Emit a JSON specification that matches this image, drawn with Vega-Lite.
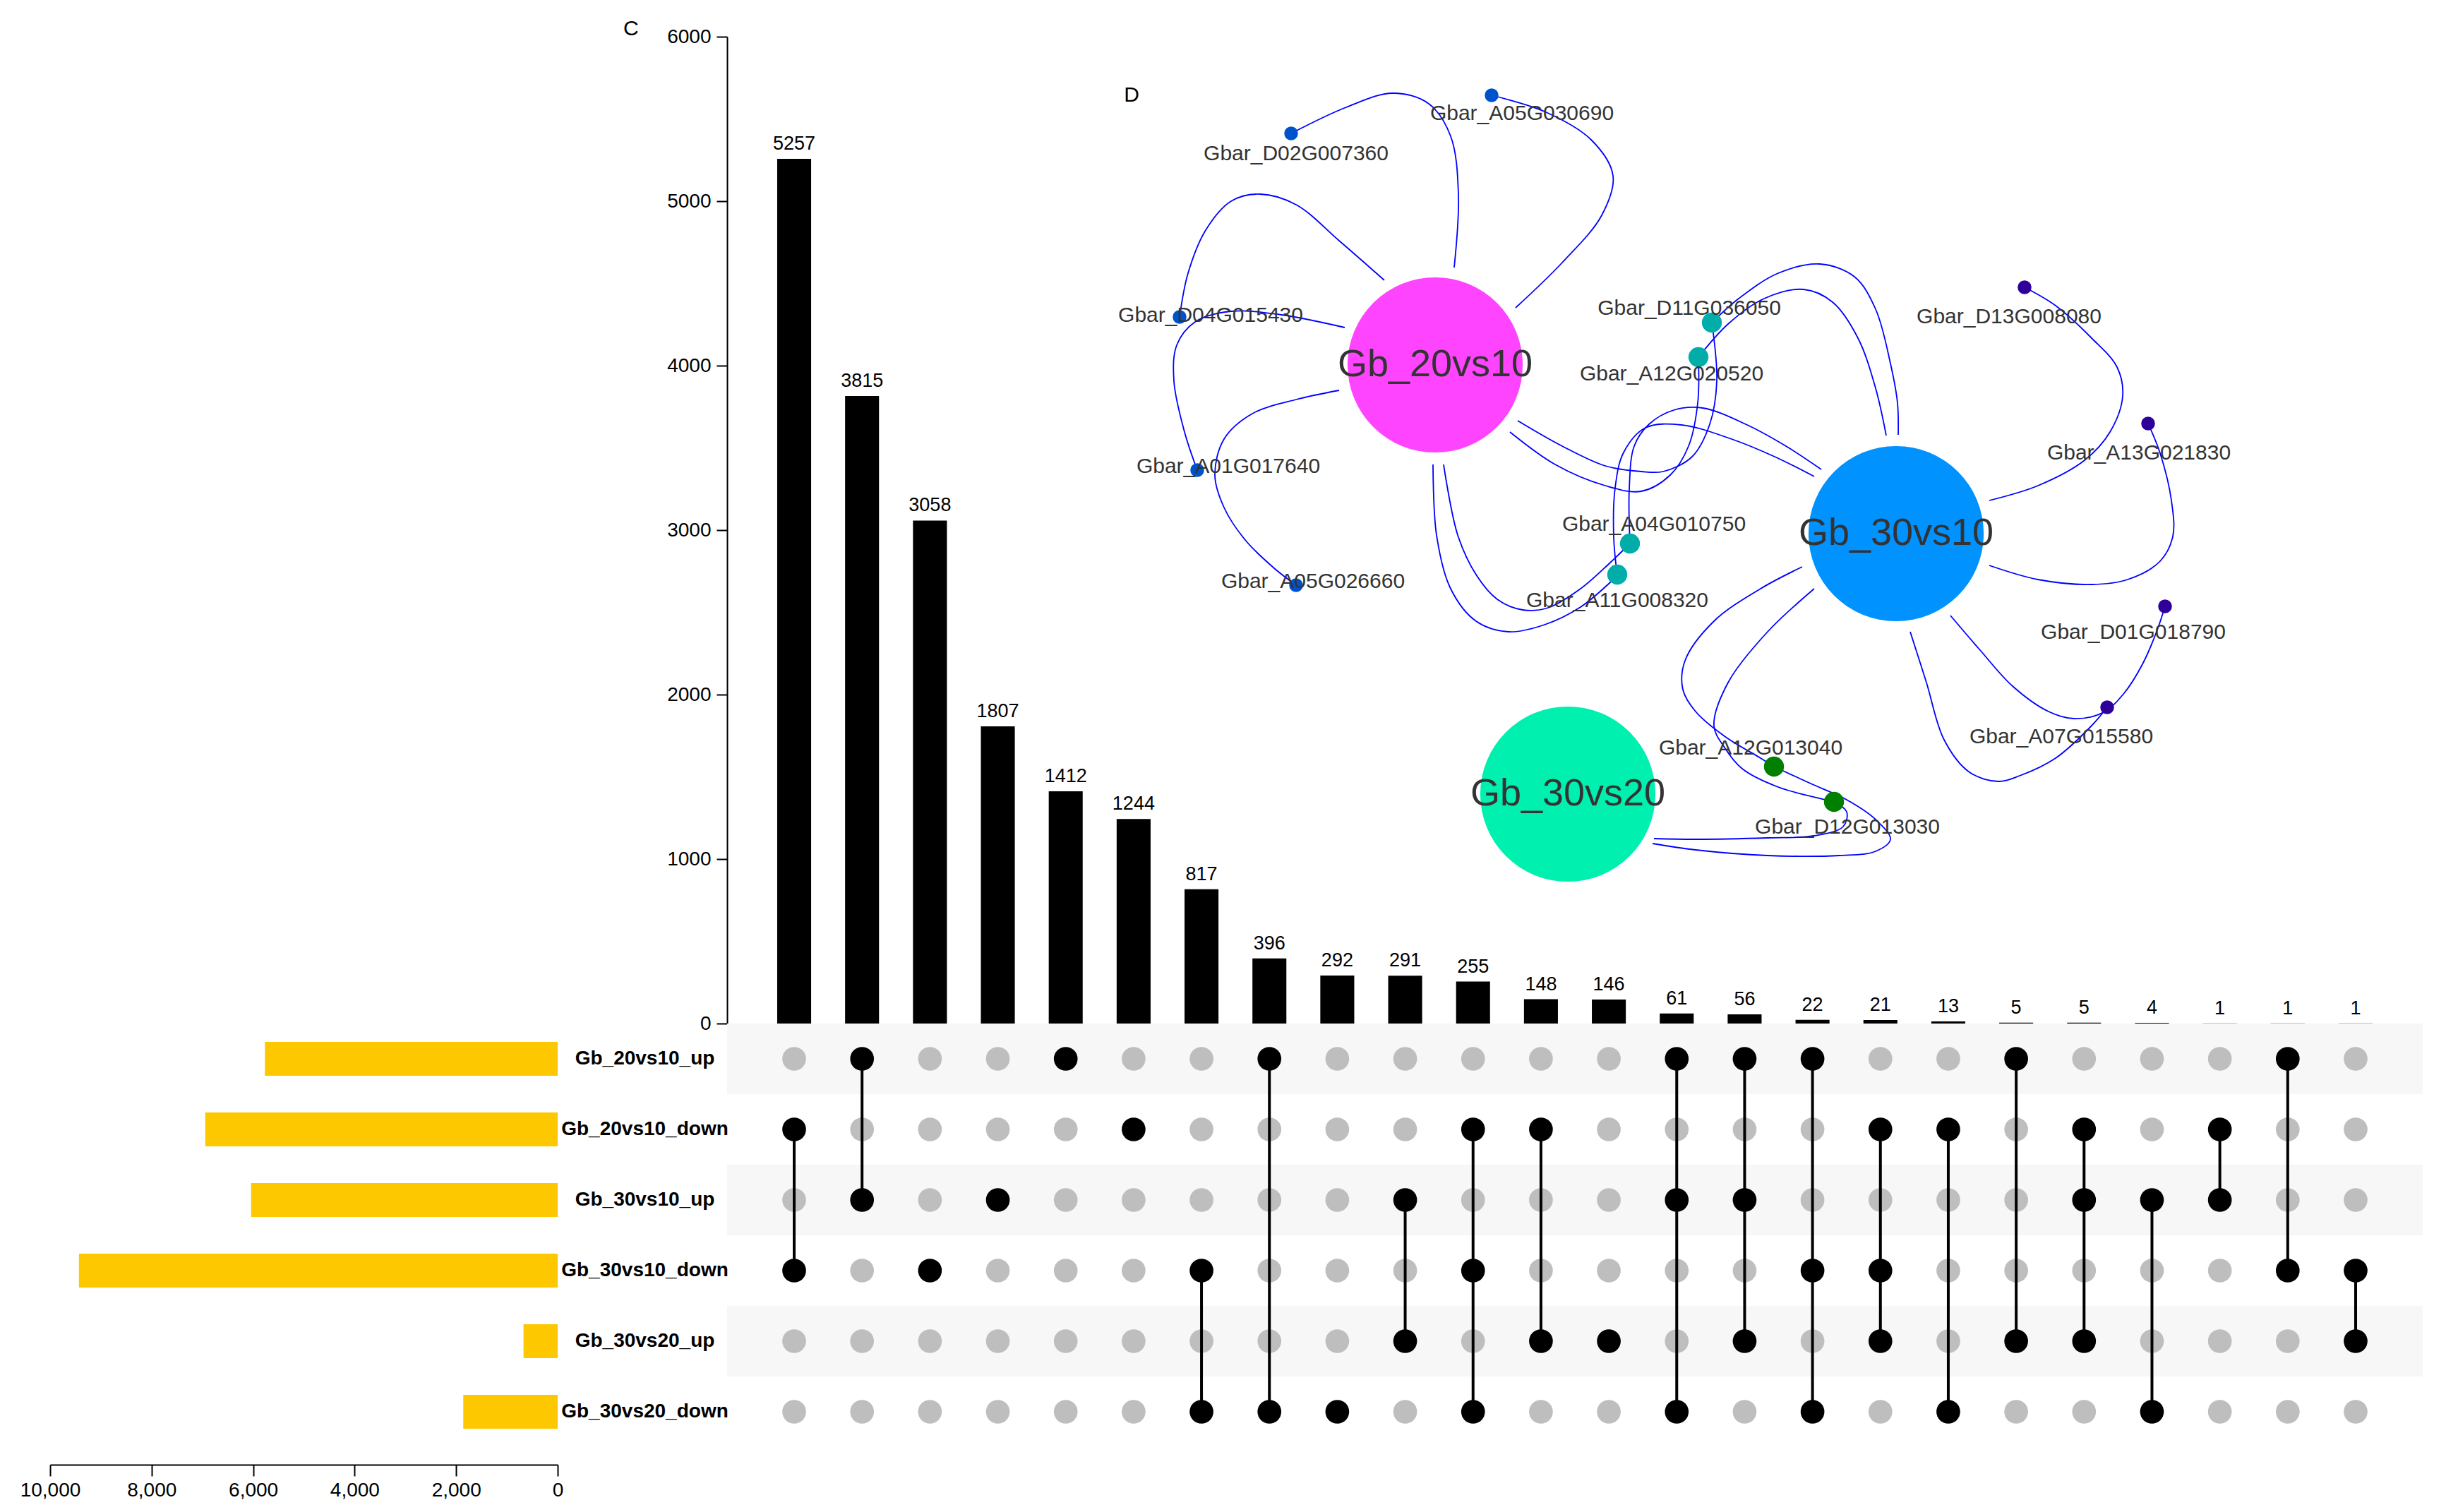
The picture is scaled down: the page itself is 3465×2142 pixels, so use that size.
{
  "$schema": "https://vega.github.io/schema/vega-lite/v6.json",
  "autosize": {"type": "pad"},
  "padding": {"left": 28, "top": 26, "right": 5, "bottom": 5},
  "background": "white",
  "config": {
    "view": {"stroke": null},
    "font": "Liberation Sans",
    "axis": {"grid": false, "labelFont": "Liberation Sans", "titleFont": "Liberation Sans"},
    "title": {"font": "Liberation Sans"}
  },
  "datasets": {
    "inter": [
      {"rank": 1, "count": 5257, "first": "Gb_20vs10_down", "last": "Gb_30vs10_down", "Gb_20vs10_up": 0, "Gb_20vs10_down": 1, "Gb_30vs10_up": 0, "Gb_30vs10_down": 1, "Gb_30vs20_up": 0, "Gb_30vs20_down": 0},
      {"rank": 2, "count": 3815, "first": "Gb_20vs10_up", "last": "Gb_30vs10_up", "Gb_20vs10_up": 1, "Gb_20vs10_down": 0, "Gb_30vs10_up": 1, "Gb_30vs10_down": 0, "Gb_30vs20_up": 0, "Gb_30vs20_down": 0},
      {"rank": 3, "count": 3058, "first": "Gb_30vs10_down", "last": "Gb_30vs10_down", "Gb_20vs10_up": 0, "Gb_20vs10_down": 0, "Gb_30vs10_up": 0, "Gb_30vs10_down": 1, "Gb_30vs20_up": 0, "Gb_30vs20_down": 0},
      {"rank": 4, "count": 1807, "first": "Gb_30vs10_up", "last": "Gb_30vs10_up", "Gb_20vs10_up": 0, "Gb_20vs10_down": 0, "Gb_30vs10_up": 1, "Gb_30vs10_down": 0, "Gb_30vs20_up": 0, "Gb_30vs20_down": 0},
      {"rank": 5, "count": 1412, "first": "Gb_20vs10_up", "last": "Gb_20vs10_up", "Gb_20vs10_up": 1, "Gb_20vs10_down": 0, "Gb_30vs10_up": 0, "Gb_30vs10_down": 0, "Gb_30vs20_up": 0, "Gb_30vs20_down": 0},
      {"rank": 6, "count": 1244, "first": "Gb_20vs10_down", "last": "Gb_20vs10_down", "Gb_20vs10_up": 0, "Gb_20vs10_down": 1, "Gb_30vs10_up": 0, "Gb_30vs10_down": 0, "Gb_30vs20_up": 0, "Gb_30vs20_down": 0},
      {"rank": 7, "count": 817, "first": "Gb_30vs10_down", "last": "Gb_30vs20_down", "Gb_20vs10_up": 0, "Gb_20vs10_down": 0, "Gb_30vs10_up": 0, "Gb_30vs10_down": 1, "Gb_30vs20_up": 0, "Gb_30vs20_down": 1},
      {"rank": 8, "count": 396, "first": "Gb_20vs10_up", "last": "Gb_30vs20_down", "Gb_20vs10_up": 1, "Gb_20vs10_down": 0, "Gb_30vs10_up": 0, "Gb_30vs10_down": 0, "Gb_30vs20_up": 0, "Gb_30vs20_down": 1},
      {"rank": 9, "count": 292, "first": "Gb_30vs20_down", "last": "Gb_30vs20_down", "Gb_20vs10_up": 0, "Gb_20vs10_down": 0, "Gb_30vs10_up": 0, "Gb_30vs10_down": 0, "Gb_30vs20_up": 0, "Gb_30vs20_down": 1},
      {"rank": 10, "count": 291, "first": "Gb_30vs10_up", "last": "Gb_30vs20_up", "Gb_20vs10_up": 0, "Gb_20vs10_down": 0, "Gb_30vs10_up": 1, "Gb_30vs10_down": 0, "Gb_30vs20_up": 1, "Gb_30vs20_down": 0},
      {"rank": 11, "count": 255, "first": "Gb_20vs10_down", "last": "Gb_30vs20_down", "Gb_20vs10_up": 0, "Gb_20vs10_down": 1, "Gb_30vs10_up": 0, "Gb_30vs10_down": 1, "Gb_30vs20_up": 0, "Gb_30vs20_down": 1},
      {"rank": 12, "count": 148, "first": "Gb_20vs10_down", "last": "Gb_30vs20_up", "Gb_20vs10_up": 0, "Gb_20vs10_down": 1, "Gb_30vs10_up": 0, "Gb_30vs10_down": 0, "Gb_30vs20_up": 1, "Gb_30vs20_down": 0},
      {"rank": 13, "count": 146, "first": "Gb_30vs20_up", "last": "Gb_30vs20_up", "Gb_20vs10_up": 0, "Gb_20vs10_down": 0, "Gb_30vs10_up": 0, "Gb_30vs10_down": 0, "Gb_30vs20_up": 1, "Gb_30vs20_down": 0},
      {"rank": 14, "count": 61, "first": "Gb_20vs10_up", "last": "Gb_30vs20_down", "Gb_20vs10_up": 1, "Gb_20vs10_down": 0, "Gb_30vs10_up": 1, "Gb_30vs10_down": 0, "Gb_30vs20_up": 0, "Gb_30vs20_down": 1},
      {"rank": 15, "count": 56, "first": "Gb_20vs10_up", "last": "Gb_30vs20_up", "Gb_20vs10_up": 1, "Gb_20vs10_down": 0, "Gb_30vs10_up": 1, "Gb_30vs10_down": 0, "Gb_30vs20_up": 1, "Gb_30vs20_down": 0},
      {"rank": 16, "count": 22, "first": "Gb_20vs10_up", "last": "Gb_30vs20_down", "Gb_20vs10_up": 1, "Gb_20vs10_down": 0, "Gb_30vs10_up": 0, "Gb_30vs10_down": 1, "Gb_30vs20_up": 0, "Gb_30vs20_down": 1},
      {"rank": 17, "count": 21, "first": "Gb_20vs10_down", "last": "Gb_30vs20_up", "Gb_20vs10_up": 0, "Gb_20vs10_down": 1, "Gb_30vs10_up": 0, "Gb_30vs10_down": 1, "Gb_30vs20_up": 1, "Gb_30vs20_down": 0},
      {"rank": 18, "count": 13, "first": "Gb_20vs10_down", "last": "Gb_30vs20_down", "Gb_20vs10_up": 0, "Gb_20vs10_down": 1, "Gb_30vs10_up": 0, "Gb_30vs10_down": 0, "Gb_30vs20_up": 0, "Gb_30vs20_down": 1},
      {"rank": 19, "count": 5, "first": "Gb_20vs10_up", "last": "Gb_30vs20_up", "Gb_20vs10_up": 1, "Gb_20vs10_down": 0, "Gb_30vs10_up": 0, "Gb_30vs10_down": 0, "Gb_30vs20_up": 1, "Gb_30vs20_down": 0},
      {"rank": 20, "count": 5, "first": "Gb_20vs10_down", "last": "Gb_30vs20_up", "Gb_20vs10_up": 0, "Gb_20vs10_down": 1, "Gb_30vs10_up": 1, "Gb_30vs10_down": 0, "Gb_30vs20_up": 1, "Gb_30vs20_down": 0},
      {"rank": 21, "count": 4, "first": "Gb_30vs10_up", "last": "Gb_30vs20_down", "Gb_20vs10_up": 0, "Gb_20vs10_down": 0, "Gb_30vs10_up": 1, "Gb_30vs10_down": 0, "Gb_30vs20_up": 0, "Gb_30vs20_down": 1},
      {"rank": 22, "count": 1, "first": "Gb_20vs10_down", "last": "Gb_30vs10_up", "Gb_20vs10_up": 0, "Gb_20vs10_down": 1, "Gb_30vs10_up": 1, "Gb_30vs10_down": 0, "Gb_30vs20_up": 0, "Gb_30vs20_down": 0},
      {"rank": 23, "count": 1, "first": "Gb_20vs10_up", "last": "Gb_30vs10_down", "Gb_20vs10_up": 1, "Gb_20vs10_down": 0, "Gb_30vs10_up": 0, "Gb_30vs10_down": 1, "Gb_30vs20_up": 0, "Gb_30vs20_down": 0},
      {"rank": 24, "count": 1, "first": "Gb_30vs10_down", "last": "Gb_30vs20_up", "Gb_20vs10_up": 0, "Gb_20vs10_down": 0, "Gb_30vs10_up": 0, "Gb_30vs10_down": 1, "Gb_30vs20_up": 1, "Gb_30vs20_down": 0}
    ],
    "sets": [
      {"set": "Gb_20vs10_up", "size": 5768, "dir": "up"},
      {"set": "Gb_20vs10_down", "size": 6944, "dir": "down"},
      {"set": "Gb_30vs10_up", "size": 6040, "dir": "up"},
      {"set": "Gb_30vs10_down", "size": 9432, "dir": "down"},
      {"set": "Gb_30vs20_up", "size": 673, "dir": "up"},
      {"set": "Gb_30vs20_down", "size": 1860, "dir": "down"}
    ],
    "hubs": [
      {"name": "Gb_20vs10", "cat": "Gb_20vs10", "x": 2033, "y": 516},
      {"name": "Gb_30vs10", "cat": "Gb_30vs10", "x": 2686, "y": 755},
      {"name": "Gb_30vs20", "cat": "Gb_30vs20", "x": 2221, "y": 1124}
    ],
    "genes": [
      {"name": "Gbar_D02G007360", "cat": "20vs10 only", "degree": 1, "x": 1829, "y": 188, "lx": 1836, "ly": 217},
      {"name": "Gbar_A05G030690", "cat": "20vs10 only", "degree": 1, "x": 2113, "y": 134, "lx": 2156, "ly": 160},
      {"name": "Gbar_D04G015430", "cat": "20vs10 only", "degree": 1, "x": 1671, "y": 448, "lx": 1715, "ly": 446},
      {"name": "Gbar_A01G017640", "cat": "20vs10 only", "degree": 1, "x": 1696, "y": 665, "lx": 1740, "ly": 660},
      {"name": "Gbar_A05G026660", "cat": "20vs10 only", "degree": 1, "x": 1836, "y": 828, "lx": 1860, "ly": 823},
      {"name": "Gbar_D11G036050", "cat": "20vs10 & 30vs10", "degree": 2, "x": 2425, "y": 456, "lx": 2393, "ly": 436},
      {"name": "Gbar_A12G020520", "cat": "20vs10 & 30vs10", "degree": 2, "x": 2406, "y": 505, "lx": 2368, "ly": 529},
      {"name": "Gbar_A04G010750", "cat": "20vs10 & 30vs10", "degree": 2, "x": 2309, "y": 769, "lx": 2343, "ly": 742},
      {"name": "Gbar_A11G008320", "cat": "20vs10 & 30vs10", "degree": 2, "x": 2291, "y": 813, "lx": 2291, "ly": 850},
      {"name": "Gbar_D13G008080", "cat": "30vs10 only", "degree": 1, "x": 2868, "y": 406, "lx": 2846, "ly": 448},
      {"name": "Gbar_A13G021830", "cat": "30vs10 only", "degree": 1, "x": 3043, "y": 599, "lx": 3030, "ly": 641},
      {"name": "Gbar_D01G018790", "cat": "30vs10 only", "degree": 1, "x": 3067, "y": 858, "lx": 3022, "ly": 895},
      {"name": "Gbar_A07G015580", "cat": "30vs10 only", "degree": 1, "x": 2985, "y": 1001, "lx": 2920, "ly": 1043},
      {"name": "Gbar_A12G013040", "cat": "30vs10 & 30vs20", "degree": 2, "x": 2513, "y": 1085, "lx": 2480, "ly": 1059},
      {"name": "Gbar_D12G013030", "cat": "30vs10 & 30vs20", "degree": 2, "x": 2598, "y": 1135, "lx": 2617, "ly": 1171}
    ],
    "panel": [{"t": "D", "x": 1603, "y": 134}],
    "edges": [
      {"e": 1, "i": 0, "x": 1829, "y": 188}, {"e": 1, "i": 1, "x": 1907, "y": 151}, {"e": 1, "i": 2, "x": 1973, "y": 131}, {"e": 1, "i": 3, "x": 2024, "y": 146}, {"e": 1, "i": 4, "x": 2055, "y": 192}, {"e": 1, "i": 5, "x": 2066, "y": 274}, {"e": 1, "i": 6, "x": 2060, "y": 378},
      {"e": 2, "i": 0, "x": 2113, "y": 134}, {"e": 2, "i": 1, "x": 2188, "y": 157}, {"e": 2, "i": 2, "x": 2254, "y": 197}, {"e": 2, "i": 3, "x": 2285, "y": 248}, {"e": 2, "i": 4, "x": 2269, "y": 304}, {"e": 2, "i": 5, "x": 2213, "y": 371}, {"e": 2, "i": 6, "x": 2147, "y": 435},
      {"e": 3, "i": 0, "x": 1671, "y": 448}, {"e": 3, "i": 1, "x": 1683, "y": 386}, {"e": 3, "i": 2, "x": 1708, "y": 325}, {"e": 3, "i": 3, "x": 1744, "y": 284}, {"e": 3, "i": 4, "x": 1785, "y": 274}, {"e": 3, "i": 5, "x": 1836, "y": 289}, {"e": 3, "i": 6, "x": 1897, "y": 340}, {"e": 3, "i": 7, "x": 1961, "y": 396},
      {"e": 4, "i": 0, "x": 1696, "y": 665}, {"e": 4, "i": 1, "x": 1678, "y": 611}, {"e": 4, "i": 2, "x": 1663, "y": 539}, {"e": 4, "i": 3, "x": 1667, "y": 488}, {"e": 4, "i": 4, "x": 1693, "y": 455}, {"e": 4, "i": 5, "x": 1744, "y": 440}, {"e": 4, "i": 6, "x": 1815, "y": 445}, {"e": 4, "i": 7, "x": 1905, "y": 463},
      {"e": 5, "i": 0, "x": 1836, "y": 828}, {"e": 5, "i": 1, "x": 1805, "y": 804}, {"e": 5, "i": 2, "x": 1764, "y": 764}, {"e": 5, "i": 3, "x": 1734, "y": 718}, {"e": 5, "i": 4, "x": 1721, "y": 672}, {"e": 5, "i": 5, "x": 1734, "y": 621}, {"e": 5, "i": 6, "x": 1774, "y": 585}, {"e": 5, "i": 7, "x": 1836, "y": 565}, {"e": 5, "i": 8, "x": 1897, "y": 552},
      {"e": 6, "i": 0, "x": 2150, "y": 595}, {"e": 6, "i": 1, "x": 2213, "y": 631}, {"e": 6, "i": 2, "x": 2274, "y": 659}, {"e": 6, "i": 3, "x": 2325, "y": 667}, {"e": 6, "i": 4, "x": 2356, "y": 667}, {"e": 6, "i": 5, "x": 2397, "y": 646}, {"e": 6, "i": 6, "x": 2422, "y": 600}, {"e": 6, "i": 7, "x": 2432, "y": 539}, {"e": 6, "i": 8, "x": 2425, "y": 456},
      {"e": 7, "i": 0, "x": 2139, "y": 611}, {"e": 7, "i": 1, "x": 2203, "y": 657}, {"e": 7, "i": 2, "x": 2274, "y": 687}, {"e": 7, "i": 3, "x": 2325, "y": 695}, {"e": 7, "i": 4, "x": 2366, "y": 672}, {"e": 7, "i": 5, "x": 2392, "y": 631}, {"e": 7, "i": 6, "x": 2405, "y": 570}, {"e": 7, "i": 7, "x": 2406, "y": 505},
      {"e": 8, "i": 0, "x": 2045, "y": 657}, {"e": 8, "i": 1, "x": 2065, "y": 757}, {"e": 8, "i": 2, "x": 2091, "y": 813}, {"e": 8, "i": 3, "x": 2121, "y": 848}, {"e": 8, "i": 4, "x": 2157, "y": 863}, {"e": 8, "i": 5, "x": 2193, "y": 860}, {"e": 8, "i": 6, "x": 2239, "y": 833}, {"e": 8, "i": 7, "x": 2280, "y": 797}, {"e": 8, "i": 8, "x": 2309, "y": 769},
      {"e": 9, "i": 0, "x": 2030, "y": 657}, {"e": 9, "i": 1, "x": 2035, "y": 757}, {"e": 9, "i": 2, "x": 2055, "y": 833}, {"e": 9, "i": 3, "x": 2091, "y": 879}, {"e": 9, "i": 4, "x": 2137, "y": 894}, {"e": 9, "i": 5, "x": 2188, "y": 884}, {"e": 9, "i": 6, "x": 2239, "y": 859}, {"e": 9, "i": 7, "x": 2280, "y": 825}, {"e": 9, "i": 8, "x": 2291, "y": 814},
      {"e": 10, "i": 0, "x": 2425, "y": 456}, {"e": 10, "i": 1, "x": 2463, "y": 422}, {"e": 10, "i": 2, "x": 2519, "y": 386}, {"e": 10, "i": 3, "x": 2578, "y": 373}, {"e": 10, "i": 4, "x": 2627, "y": 391}, {"e": 10, "i": 5, "x": 2657, "y": 437}, {"e": 10, "i": 6, "x": 2678, "y": 514}, {"e": 10, "i": 7, "x": 2688, "y": 570}, {"e": 10, "i": 8, "x": 2689, "y": 615},
      {"e": 11, "i": 0, "x": 2406, "y": 505}, {"e": 11, "i": 1, "x": 2448, "y": 458}, {"e": 11, "i": 2, "x": 2499, "y": 422}, {"e": 11, "i": 3, "x": 2555, "y": 409}, {"e": 11, "i": 4, "x": 2596, "y": 427}, {"e": 11, "i": 5, "x": 2632, "y": 478}, {"e": 11, "i": 6, "x": 2657, "y": 549}, {"e": 11, "i": 7, "x": 2672, "y": 616},
      {"e": 12, "i": 0, "x": 2580, "y": 664}, {"e": 12, "i": 1, "x": 2530, "y": 631}, {"e": 12, "i": 2, "x": 2473, "y": 600}, {"e": 12, "i": 3, "x": 2412, "y": 577}, {"e": 12, "i": 4, "x": 2371, "y": 580}, {"e": 12, "i": 5, "x": 2336, "y": 600}, {"e": 12, "i": 6, "x": 2315, "y": 631}, {"e": 12, "i": 7, "x": 2308, "y": 692}, {"e": 12, "i": 8, "x": 2309, "y": 769},
      {"e": 13, "i": 0, "x": 2570, "y": 674}, {"e": 13, "i": 1, "x": 2514, "y": 646}, {"e": 13, "i": 2, "x": 2453, "y": 621}, {"e": 13, "i": 3, "x": 2382, "y": 601}, {"e": 13, "i": 4, "x": 2331, "y": 605}, {"e": 13, "i": 5, "x": 2300, "y": 640}, {"e": 13, "i": 6, "x": 2288, "y": 690}, {"e": 13, "i": 7, "x": 2286, "y": 760}, {"e": 13, "i": 8, "x": 2291, "y": 814},
      {"e": 14, "i": 0, "x": 2868, "y": 406}, {"e": 14, "i": 1, "x": 2912, "y": 432}, {"e": 14, "i": 2, "x": 2963, "y": 478}, {"e": 14, "i": 3, "x": 2999, "y": 519}, {"e": 14, "i": 4, "x": 3007, "y": 560}, {"e": 14, "i": 5, "x": 2989, "y": 611}, {"e": 14, "i": 6, "x": 2953, "y": 651}, {"e": 14, "i": 7, "x": 2887, "y": 687}, {"e": 14, "i": 8, "x": 2818, "y": 708},
      {"e": 15, "i": 0, "x": 3043, "y": 599}, {"e": 15, "i": 1, "x": 3060, "y": 641}, {"e": 15, "i": 2, "x": 3076, "y": 708}, {"e": 15, "i": 3, "x": 3078, "y": 759}, {"e": 15, "i": 4, "x": 3060, "y": 794}, {"e": 15, "i": 5, "x": 3014, "y": 820}, {"e": 15, "i": 6, "x": 2963, "y": 827}, {"e": 15, "i": 7, "x": 2887, "y": 820}, {"e": 15, "i": 8, "x": 2818, "y": 800},
      {"e": 16, "i": 0, "x": 3067, "y": 858}, {"e": 16, "i": 1, "x": 3055, "y": 894}, {"e": 16, "i": 2, "x": 3035, "y": 940}, {"e": 16, "i": 3, "x": 3009, "y": 981}, {"e": 16, "i": 4, "x": 2980, "y": 1008}, {"e": 16, "i": 5, "x": 2938, "y": 1017}, {"e": 16, "i": 6, "x": 2902, "y": 1007}, {"e": 16, "i": 7, "x": 2851, "y": 971}, {"e": 16, "i": 8, "x": 2805, "y": 920}, {"e": 16, "i": 9, "x": 2763, "y": 871},
      {"e": 17, "i": 0, "x": 2985, "y": 1001}, {"e": 17, "i": 1, "x": 2963, "y": 1027}, {"e": 17, "i": 2, "x": 2912, "y": 1073}, {"e": 17, "i": 3, "x": 2861, "y": 1098}, {"e": 17, "i": 4, "x": 2831, "y": 1106}, {"e": 17, "i": 5, "x": 2790, "y": 1093}, {"e": 17, "i": 6, "x": 2754, "y": 1047}, {"e": 17, "i": 7, "x": 2729, "y": 966}, {"e": 17, "i": 8, "x": 2706, "y": 894},
      {"e": 18, "i": 0, "x": 2553, "y": 802}, {"e": 18, "i": 1, "x": 2494, "y": 833}, {"e": 18, "i": 2, "x": 2428, "y": 879}, {"e": 18, "i": 3, "x": 2387, "y": 935}, {"e": 18, "i": 4, "x": 2384, "y": 976}, {"e": 18, "i": 5, "x": 2402, "y": 1007}, {"e": 18, "i": 6, "x": 2443, "y": 1042}, {"e": 18, "i": 7, "x": 2494, "y": 1073}, {"e": 18, "i": 8, "x": 2513, "y": 1085},
      {"e": 19, "i": 0, "x": 2570, "y": 833}, {"e": 19, "i": 1, "x": 2504, "y": 894}, {"e": 19, "i": 2, "x": 2448, "y": 966}, {"e": 19, "i": 3, "x": 2428, "y": 1027}, {"e": 19, "i": 4, "x": 2443, "y": 1058}, {"e": 19, "i": 5, "x": 2468, "y": 1088}, {"e": 19, "i": 6, "x": 2519, "y": 1114}, {"e": 19, "i": 7, "x": 2586, "y": 1132}, {"e": 19, "i": 8, "x": 2598, "y": 1135},
      {"e": 20, "i": 0, "x": 2513, "y": 1085}, {"e": 20, "i": 1, "x": 2565, "y": 1109}, {"e": 20, "i": 2, "x": 2616, "y": 1132}, {"e": 20, "i": 3, "x": 2657, "y": 1160}, {"e": 20, "i": 4, "x": 2678, "y": 1188}, {"e": 20, "i": 5, "x": 2657, "y": 1205}, {"e": 20, "i": 6, "x": 2606, "y": 1211}, {"e": 20, "i": 7, "x": 2504, "y": 1211}, {"e": 20, "i": 8, "x": 2402, "y": 1203}, {"e": 20, "i": 9, "x": 2341, "y": 1194},
      {"e": 21, "i": 0, "x": 2598, "y": 1135}, {"e": 21, "i": 1, "x": 2616, "y": 1149}, {"e": 21, "i": 2, "x": 2611, "y": 1170}, {"e": 21, "i": 3, "x": 2570, "y": 1183}, {"e": 21, "i": 4, "x": 2504, "y": 1186}, {"e": 21, "i": 5, "x": 2402, "y": 1188}, {"e": 21, "i": 6, "x": 2343, "y": 1187}
    ]
  },
  "concat": [
    {
      "width": 719,
      "height": 1398,
      "data": {"values": []},
      "mark": "point"
    },
    {
      "width": 2402,
      "height": 1398,
      "title": {"text": "C", "anchor": "start", "frame": "group", "dx": -147, "dy": 22, "fontSize": 30, "fontWeight": "normal", "color": "black"},
      "layer": [
        {
          "data": {"name": "inter"},
          "encoding": {
            "x": {"field": "rank", "type": "ordinal", "axis": null, "scale": {"paddingInner": 0.5, "paddingOuter": 0.738}},
            "y": {"field": "count", "type": "quantitative", "scale": {"domain": [0, 6000], "nice": false},
              "axis": {"title": null, "values": [0, 1000, 2000, 3000, 4000, 5000, 6000], "format": "d", "labelFontSize": 28, "labelColor": "black", "tickSize": 15, "tickColor": "black", "tickWidth": 2, "domainColor": "black", "domainWidth": 2, "labelPadding": 8, "labelFlush": false}}
          },
          "layer": [
            {"mark": {"type": "bar", "color": "black"}},
            {"mark": {"type": "text", "fontSize": 27, "color": "black", "baseline": "alphabetic", "dy": -13}, "encoding": {"text": {"field": "count", "type": "quantitative"}}}
          ]
        },
        {
          "layer": [
            {
              "data": {"name": "edges"},
              "mark": {"type": "line", "interpolate": "catmull-rom", "color": "#0000FF", "strokeWidth": 1.8},
              "encoding": {
                "x": {"field": "x", "type": "quantitative", "scale": {"domain": [1030, 3432], "nice": false, "zero": false}, "axis": null},
                "y": {"field": "y", "type": "quantitative", "scale": {"domain": [51, 1449], "nice": false, "zero": false, "reverse": true}, "axis": null},
                "detail": {"field": "e", "type": "nominal"},
                "order": {"field": "i", "type": "quantitative"}
              }
            },
            {
              "data": {"name": "hubs"},
              "mark": {"type": "circle", "opacity": 1, "size": 61575},
              "encoding": {
                "x": {"field": "x", "type": "quantitative", "axis": null},
                "y": {"field": "y", "type": "quantitative", "axis": null},
                "color": {"field": "cat", "type": "nominal", "legend": null,
                  "scale": {"domain": ["Gb_20vs10", "Gb_30vs10", "Gb_30vs20", "20vs10 only", "20vs10 & 30vs10", "30vs10 only", "30vs10 & 30vs20"],
                    "range": ["#FF44FF", "#0092FF", "#00F0B0", "#0052CC", "#00ADA9", "#2E0099", "#007F00"]}}
              }
            },
            {
              "data": {"name": "hubs"},
              "mark": {"type": "text", "fontSize": 54, "color": "#333333", "baseline": "middle", "align": "center"},
              "encoding": {
                "x": {"field": "x", "type": "quantitative", "axis": null},
                "y": {"field": "y", "type": "quantitative", "axis": null},
                "text": {"field": "name"}
              }
            },
            {
              "data": {"name": "genes"},
              "mark": {"type": "circle", "opacity": 1},
              "encoding": {
                "x": {"field": "x", "type": "quantitative", "axis": null},
                "y": {"field": "y", "type": "quantitative", "axis": null},
                "size": {"field": "degree", "type": "quantitative", "legend": null, "scale": {"domain": [1, 2], "range": [380, 804]}},
                "color": {"field": "cat", "type": "nominal", "legend": null}
              }
            },
            {
              "data": {"name": "genes"},
              "mark": {"type": "text", "fontSize": 30, "color": "#333333", "baseline": "middle", "align": "center"},
              "encoding": {
                "x": {"field": "lx", "type": "quantitative", "axis": null},
                "y": {"field": "ly", "type": "quantitative", "axis": null},
                "text": {"field": "name"}
              }
            },
            {
              "data": {"name": "panel"},
              "mark": {"type": "text", "fontSize": 30, "color": "black", "baseline": "middle", "align": "center"},
              "encoding": {
                "x": {"field": "x", "type": "quantitative", "axis": null},
                "y": {"field": "y", "type": "quantitative", "axis": null},
                "text": {"field": "t"}
              }
            }
          ]
        }
      ],
      "resolve": {"scale": {"x": "independent", "y": "independent"}, "axis": {"x": "independent", "y": "independent"}}
    },
    {
      "width": 719,
      "height": 600,
      "data": {"name": "sets"},
      "mark": {"type": "bar", "color": "#FDC800"},
      "encoding": {
        "x": {"field": "size", "type": "quantitative", "scale": {"domain": [0, 10000], "nice": false, "reverse": true},
          "axis": {"title": null, "orient": "bottom", "values": [0, 2000, 4000, 6000, 8000, 10000], "format": ",d", "offset": 25, "tickSize": 16, "tickColor": "black", "tickWidth": 2, "domainColor": "black", "domainWidth": 2, "labelFontSize": 28, "labelColor": "black", "labelPadding": 6, "labelFlush": false, "labelOverlap": false}},
        "y": {"field": "set", "type": "nominal",
          "scale": {"domain": ["Gb_20vs10_up", "Gb_20vs10_down", "Gb_30vs10_up", "Gb_30vs10_down", "Gb_30vs20_up", "Gb_30vs20_down"], "paddingInner": 0.52, "paddingOuter": 0.26},
          "axis": {"title": null, "orient": "right", "ticks": false, "domain": false, "labelFontSize": 28, "labelFontWeight": "bold", "labelColor": "black", "labelAlign": "center", "labelPadding": 123, "labelLimit": 0}}
      }
    },
    {
      "width": 2402,
      "height": 600,
      "layer": [
        {
          "data": {"name": "sets"},
          "transform": [{"filter": {"field": "dir", "equal": "up"}}],
          "mark": {"type": "bar", "color": "#F7F7F7"},
          "encoding": {
            "y": {"field": "set", "type": "nominal", "axis": null,
              "scale": {"domain": ["Gb_20vs10_up", "Gb_20vs10_down", "Gb_30vs10_up", "Gb_30vs10_down", "Gb_30vs20_up", "Gb_30vs20_down"], "paddingInner": 0, "paddingOuter": 0}}
          }
        },
        {
          "data": {"name": "inter"},
          "transform": [
            {"fold": ["Gb_20vs10_up", "Gb_20vs10_down", "Gb_30vs10_up", "Gb_30vs10_down", "Gb_30vs20_up", "Gb_30vs20_down"], "as": ["set", "member"]},
            {"filter": {"field": "member", "equal": 0}}
          ],
          "mark": {"type": "circle", "opacity": 1, "size": 1134, "color": "#BEBEBE"},
          "encoding": {
            "x": {"field": "rank", "type": "ordinal", "axis": null, "scale": {"paddingInner": 0.5, "paddingOuter": 0.738}},
            "y": {"field": "set", "type": "nominal", "axis": null}
          }
        },
        {
          "data": {"name": "inter"},
          "mark": {"type": "rule", "color": "black", "strokeWidth": 4},
          "encoding": {
            "x": {"field": "rank", "type": "ordinal", "axis": null},
            "y": {"field": "first", "type": "nominal", "axis": null},
            "y2": {"field": "last"}
          }
        },
        {
          "data": {"name": "inter"},
          "transform": [
            {"fold": ["Gb_20vs10_up", "Gb_20vs10_down", "Gb_30vs10_up", "Gb_30vs10_down", "Gb_30vs20_up", "Gb_30vs20_down"], "as": ["set", "member"]},
            {"filter": {"field": "member", "equal": 1}}
          ],
          "mark": {"type": "circle", "opacity": 1, "size": 1134, "color": "black"},
          "encoding": {
            "x": {"field": "rank", "type": "ordinal", "axis": null},
            "y": {"field": "set", "type": "nominal", "axis": null}
          }
        }
      ]
    }
  ],
  "columns": 2,
  "bounds": "flush",
  "spacing": {"row": 0, "column": 240}
}
